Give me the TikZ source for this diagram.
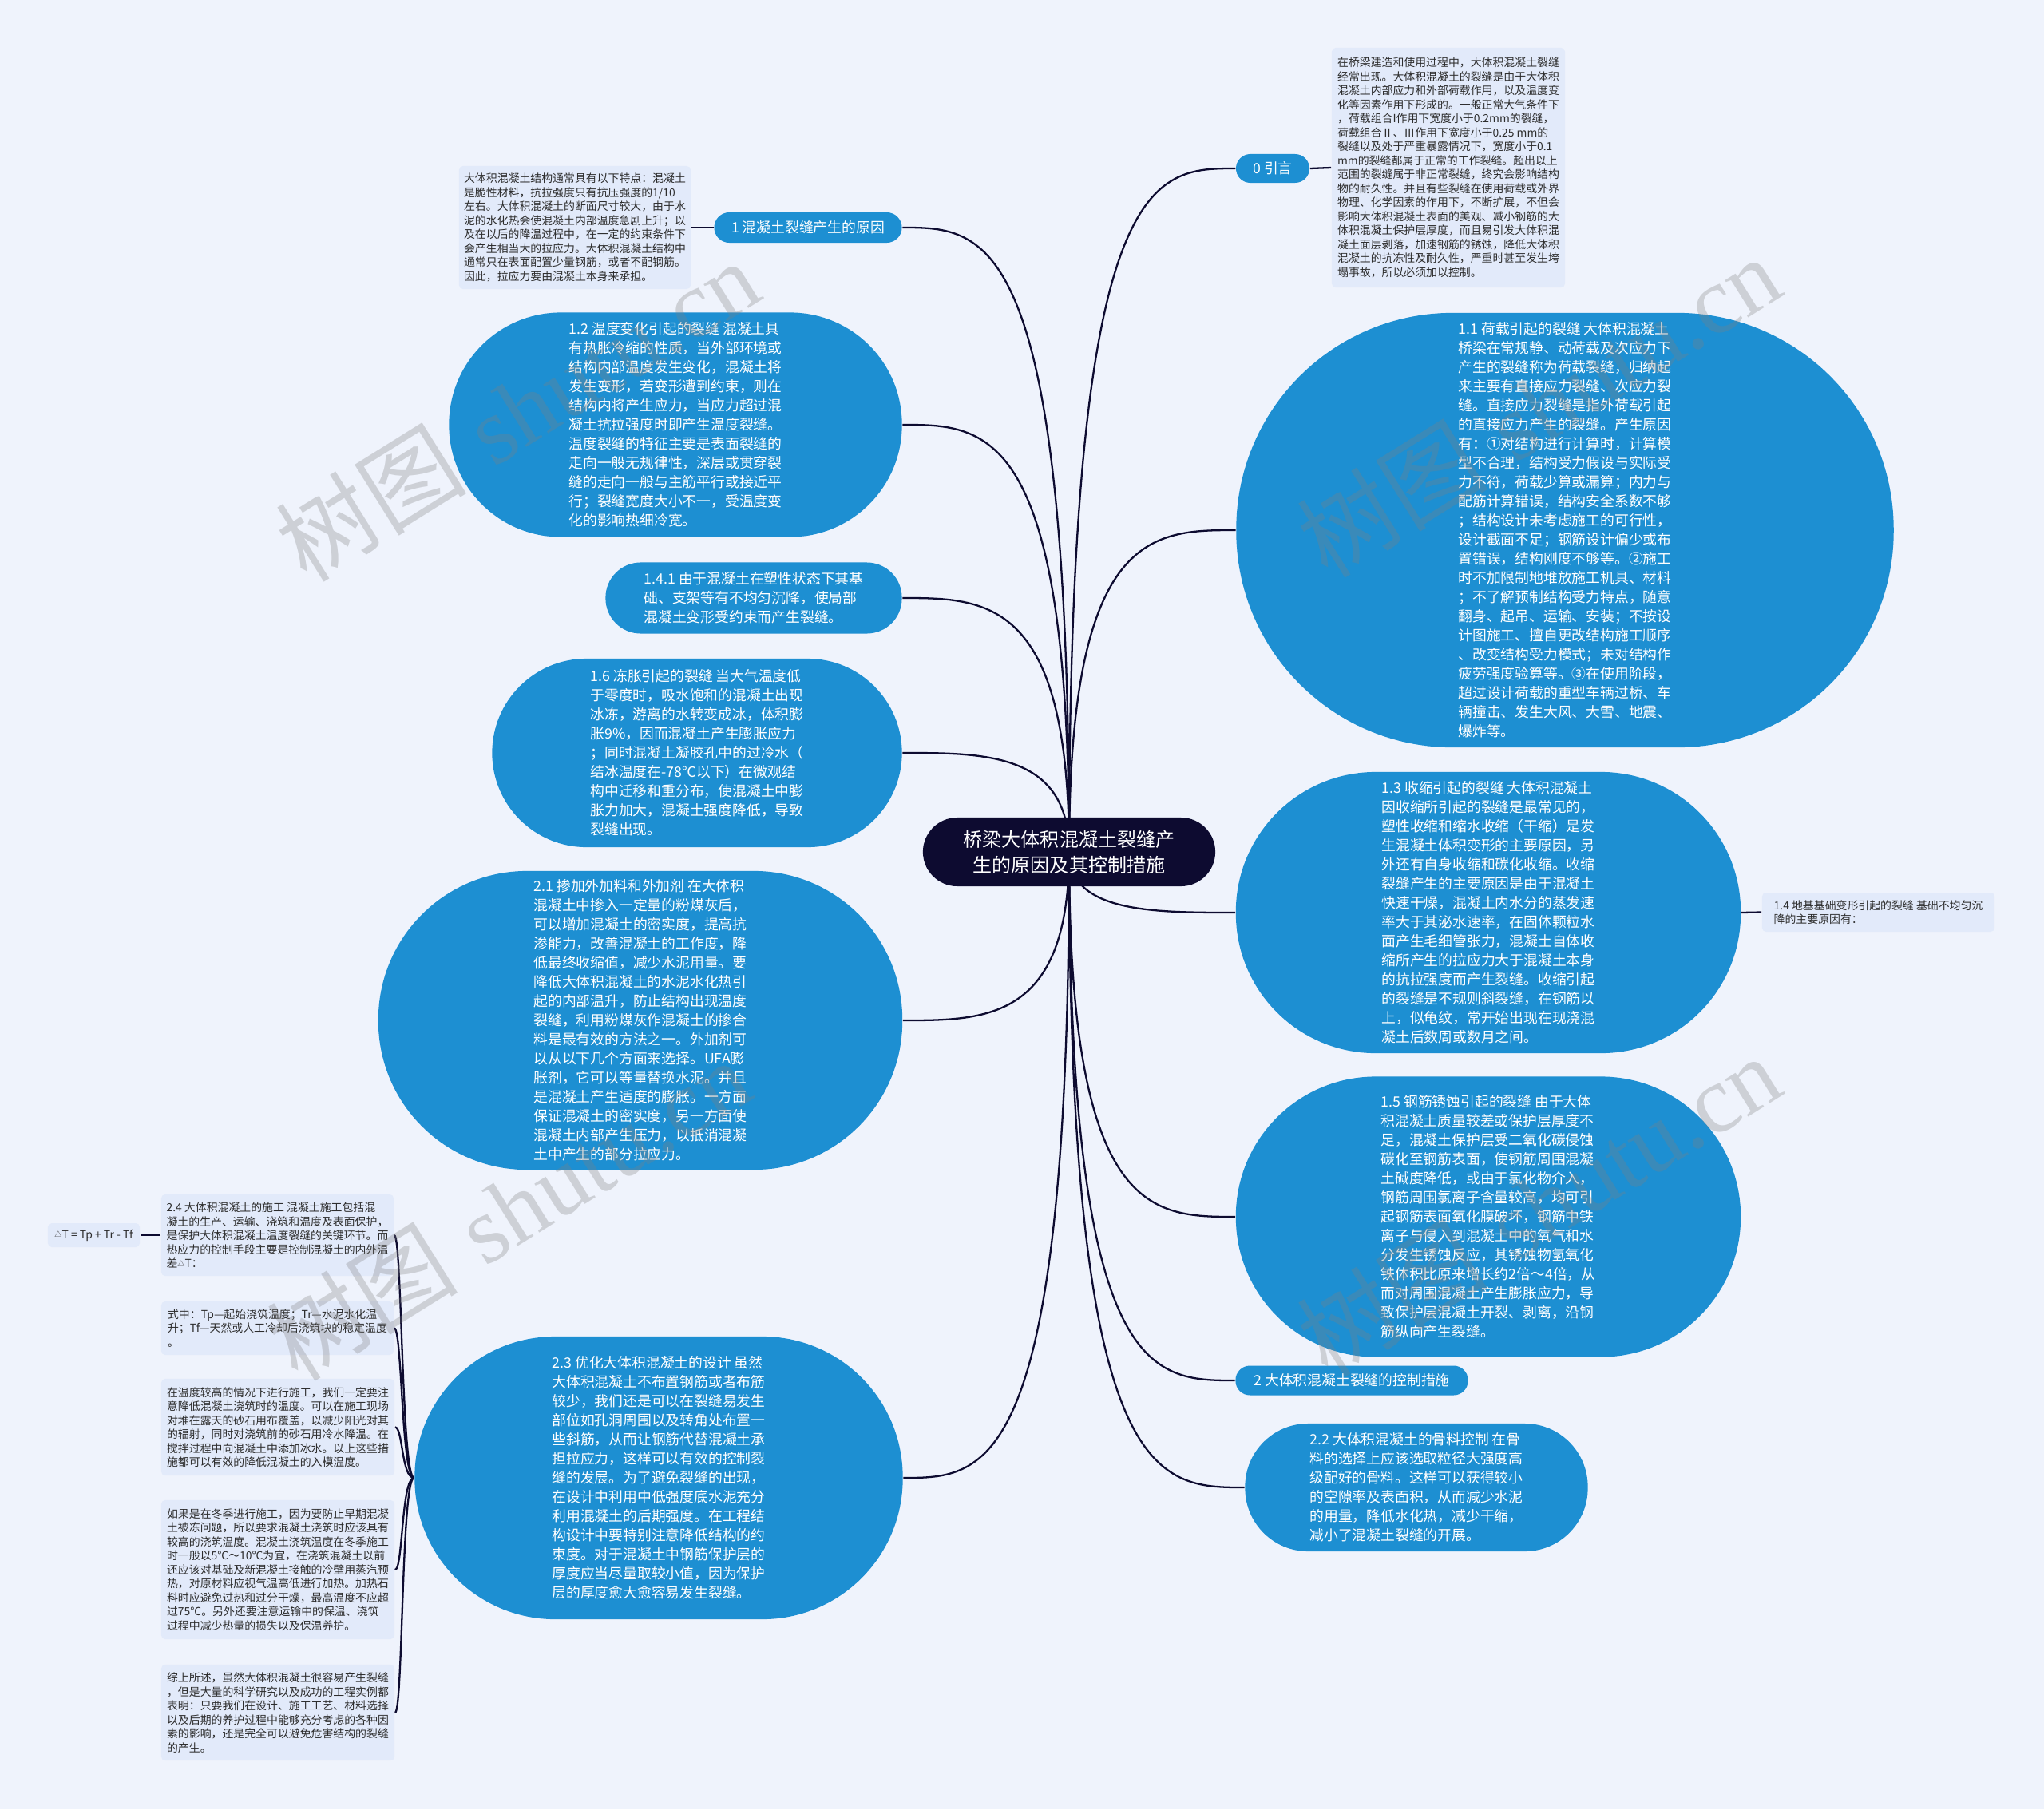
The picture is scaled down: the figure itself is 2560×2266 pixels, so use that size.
\documentclass[tikz,border=0pt]{standalone}
\usepackage{fontspec}
\newfontfamily\cjk{Noto Sans CJK SC}
\newfontfamily\wmserif{Liberation Serif}
\usetikzlibrary{calc}
\definecolor{bgc}{RGB}{239,243,252}
\definecolor{boxc}{RGB}{226,234,250}
\definecolor{blueN}{RGB}{29,143,210}
\definecolor{navy}{RGB}{13,11,48}
\definecolor{txtc}{RGB}{45,45,45}
\newcommand\fbig{\cjk\fontsize{5.06pt}{6.83pt}\selectfont}
\newcommand\fsmall{\cjk\fontsize{3.95pt}{4.98pt}\selectfont}
\newcommand\fcen{\cjk\fontsize{6.83pt}{9.1pt}\selectfont}
\newcommand\fwm{\fontsize{34pt}{36pt}\selectfont}
\newcommand\tri{{\fontsize{2.6pt}{3pt}\selectfont\raisebox{0.4pt}{△}}}
\pgfdeclarelayer{background}
\pgfsetlayers{background,main}
\begin{document}
\begin{tikzpicture}[x=0.01cm,y=-0.01cm,
  conn/.style={draw=navy, line width=0.65pt},
  blob/.style n args={3}{fill=blueN, text=white, minimum width=#1, minimum height=#2, rounded corners=#3, inner sep=0pt, align=left, font=\fbig},
  pill/.style n args={3}{fill=blueN, text=white, minimum width=#1, minimum height=#2, rounded corners=#3, inner sep=0pt, font=\fbig},
  sbox/.style n args={2}{fill=boxc, text=txtc, minimum width=#1, minimum height=#2, rounded corners=0.05cm, inner sep=0pt, align=left, font=\fsmall},
  wm/.style={rotate=32, text=black!50, text opacity=0.3, font=\fwm}
]
\useasboundingbox (0,0) rectangle (2560,2266);

% central
\node[fill=navy, text=white, minimum width=3.66cm, minimum height=0.86cm, rounded corners=0.43cm, inner sep=0pt, align=center, font=\fcen] (c) at (1339,1067) {桥梁大体积混凝土裂缝产\\生的原因及其控制措施};

% right side
\node[pill={0.92cm}{0.36cm}{0.18cm}] (p0) at (1594,211) {0 引言};
\node[sbox={2.92cm}{3.00cm}] (bintro) at (1814,210) {在桥梁建造和使用过程中，大体积混凝土裂缝\\经常出现。大体积混凝土的裂缝是由于大体积\\混凝土内部应力和外部荷载作用，以及温度变\\化等因素作用下形成的。一般正常大气条件下\\，荷载组合I作用下宽度小于0.2mm的裂缝，\\荷载组合Ⅱ、Ⅲ作用下宽度小于0.25 mm的\\裂缝以及处于严重暴露情况下，宽度小于0.1\\mm的裂缝都属于正常的工作裂缝。超出以上\\范围的裂缝属于非正常裂缝，终究会影响结构\\物的耐久性。并且有些裂缝在使用荷载或外界\\物理、化学因素的作用下，不断扩展，不但会\\影响大体积混凝土表面的美观、减小钢筋的大\\体积混凝土保护层厚度，而且易引发大体积混\\凝土面层剥落，加速钢筋的锈蚀，降低大体积\\混凝土的抗冻性及耐久性，严重时甚至发生垮\\塌事故，所以必须加以控制。};

\node[blob={8.23cm}{5.44cm}{2.71cm}] (e11) at (1960,664) {1.1 荷载引起的裂缝 大体积混凝土\\桥梁在常规静、动荷载及次应力下\\产生的裂缝称为荷载裂缝，归纳起\\来主要有直接应力裂缝、次应力裂\\缝。直接应力裂缝是指外荷载引起\\的直接应力产生的裂缝。产生原因\\有：①对结构进行计算时，计算模\\型不合理，结构受力假设与实际受\\力不符，荷载少算或漏算；内力与\\配筋计算错误，结构安全系数不够\\；结构设计未考虑施工的可行性，\\设计截面不足；钢筋设计偏少或布\\置错误，结构刚度不够等。②施工\\时不加限制地堆放施工机具、材料\\；不了解预制结构受力特点，随意\\翻身、起吊、运输、安装；不按设\\计图施工、擅自更改结构施工顺序\\、改变结构受力模式；未对结构作\\疲劳强度验算等。③在使用阶段，\\超过设计荷载的重型车辆过桥、车\\辆撞击、发生大风、大雪、地震、\\爆炸等。};

\node[blob={6.32cm}{3.52cm}{1.75cm}] (e13) at (1864,1143) {1.3 收缩引起的裂缝 大体积混凝土\\因收缩所引起的裂缝是最常见的，\\塑性收缩和缩水收缩（干缩）是发\\生混凝土体积变形的主要原因，另\\外还有自身收缩和碳化收缩。收缩\\裂缝产生的主要原因是由于混凝土\\快速干燥，混凝土内水分的蒸发速\\率大于其泌水速率，在固体颗粒水\\面产生毛细管张力，混凝土自体收\\缩所产生的拉应力大于混凝土本身\\的抗拉强度而产生裂缝。收缩引起\\的裂缝是不规则斜裂缝，在钢筋以\\上，似龟纹，常开始出现在现浇混\\凝土后数周或数月之间。};

\node[sbox={2.91cm}{0.49cm}] (b14) at (2352.5,1142.5) {1.4 地基基础变形引起的裂缝 基础不均匀沉\\降的主要原因有：};

\node[blob={6.32cm}{3.51cm}{1.75cm}] (e15) at (1864,1524) {1.5 钢筋锈蚀引起的裂缝 由于大体\\积混凝土质量较差或保护层厚度不\\足，混凝土保护层受二氧化碳侵蚀\\碳化至钢筋表面，使钢筋周围混凝\\土碱度降低，或由于氯化物介入，\\钢筋周围氯离子含量较高，均可引\\起钢筋表面氧化膜破坏，钢筋中铁\\离子与侵入到混凝土中的氧气和水\\分发生锈蚀反应，其锈蚀物氢氧化\\铁体积比原来增长约2倍～4倍，从\\而对周围混凝土产生膨胀应力，导\\致保护层混凝土开裂、剥离，沿钢\\筋纵向产生裂缝。};

\node[pill={2.91cm}{0.37cm}{0.18cm}] (p2) at (1693,1729) {2 大体积混凝土裂缝的控制措施};

\node[blob={4.29cm}{1.60cm}{0.79cm}] (e22) at (1774,1863) {2.2 大体积混凝土的骨料控制 在骨\\料的选择上应该选取粒径大强度高\\级配好的骨料。这样可以获得较小\\的空隙率及表面积，从而减少水泥\\的用量，降低水化热，减少干缩，\\减小了混凝土裂缝的开展。};

% left side
\node[pill={2.35cm}{0.38cm}{0.19cm}] (p1) at (1012,285) {1 混凝土裂缝产生的原因};
\node[sbox={2.90cm}{1.54cm}] (b1) at (720,285) {大体积混凝土结构通常具有以下特点：混凝土\\是脆性材料，抗拉强度只有抗压强度的1/10\\左右。大体积混凝土的断面尺寸较大，由于水\\泥的水化热会使混凝土内部温度急剧上升；以\\及在以后的降温过程中，在一定的约束条件下\\会产生相当大的拉应力。大体积混凝土结构中\\通常只在表面配置少量钢筋，或者不配钢筋。\\因此，拉应力要由混凝土本身来承担。};

\node[blob={5.67cm}{2.81cm}{1.40cm}] (e12) at (846,532) {1.2 温度变化引起的裂缝 混凝土具\\有热胀冷缩的性质，当外部环境或\\结构内部温度发生变化，混凝土将\\发生变形，若变形遭到约束，则在\\结构内将产生应力，当应力超过混\\凝土抗拉强度时即产生温度裂缝。\\温度裂缝的特征主要是表面裂缝的\\走向一般无规律性，深层或贯穿裂\\缝的走向一般与主筋平行或接近平\\行；裂缝宽度大小不一，受温度变\\化的影响热细冷宽。};

\node[blob={3.71cm}{0.89cm}{0.44cm}] (e141) at (944,749) {1.4.1 由于混凝土在塑性状态下其基\\础、支架等有不均匀沉降，使局部\\混凝土变形受约束而产生裂缝。};

\node[blob={5.13cm}{2.36cm}{1.18cm}] (e16) at (873,943) {1.6 冻胀引起的裂缝 当大气温度低\\于零度时，吸水饱和的混凝土出现\\冰冻，游离的水转变成冰，体积膨\\胀9\%，因而混凝土产生膨胀应力\\；同时混凝土凝胶孔中的过冷水（\\结冰温度在-78℃以下）在微观结\\构中迁移和重分布，使混凝土中膨\\胀力加大，混凝土强度降低，导致\\裂缝出现。};

\node[blob={6.56cm}{3.74cm}{1.86cm}] (e21) at (802,1278) {2.1 掺加外加料和外加剂 在大体积\\混凝土中掺入一定量的粉煤灰后，\\可以增加混凝土的密实度，提高抗\\渗能力，改善混凝土的工作度，降\\低最终收缩值，减少水泥用量。要\\降低大体积混凝土的水泥水化热引\\起的内部温升，防止结构出现温度\\裂缝，利用粉煤灰作混凝土的掺合\\料是最有效的方法之一。外加剂可\\以从以下几个方面来选择。UFA膨\\胀剂，它可以等量替换水泥。并且\\是混凝土产生适度的膨胀。一方面\\保证混凝土的密实度，另一方面使\\混凝土内部产生压力，以抵消混凝\\土中产生的部分拉应力。};

\node[blob={6.11cm}{3.54cm}{1.76cm}] (e23) at (825,1851) {2.3 优化大体积混凝土的设计 虽然\\大体积混凝土不布置钢筋或者布筋\\较少，我们还是可以在裂缝易发生\\部位如孔洞周围以及转角处布置一\\些斜筋，从而让钢筋代替混凝土承\\担拉应力，这样可以有效的控制裂\\缝的发展。为了避免裂缝的出现，\\在设计中利用中低强度底水泥充分\\利用混凝土的后期强度。在工程结\\构设计中要特别注意降低结构的约\\束度。对于混凝土中钢筋保护层的\\厚度应当尽量取较小值，因为保护\\层的厚度愈大愈容易发生裂缝。};

% far-left boxes
\node[sbox={2.91cm}{1.02cm}] (b24) at (347.5,1547) {2.4 大体积混凝土的施工 混凝土施工包括混\\凝土的生产、运输、浇筑和温度及表面保护，\\是保护大体积混凝土温度裂缝的关键环节。而\\热应力的控制手段主要是控制混凝土的内外温\\差\tri T：};
\node[sbox={1.15cm}{0.30cm}] (bdt) at (117.5,1547) {\tri T = Tp + Tr - Tf};
\node[sbox={2.91cm}{0.67cm}] (bsz) at (347.5,1663.5) {式中：Tp—起始浇筑温度；Tr—水泥水化温\\升；Tf—天然或人工冷却后浇筑块的稳定温度\\。};
\node[sbox={2.92cm}{1.21cm}] (bwd) at (348,1787.5) {在温度较高的情况下进行施工，我们一定要注\\意降低混凝土浇筑时的温度。可以在施工现场\\对堆在露天的砂石用布覆盖，以减少阳光对其\\的辐射，同时对浇筑前的砂石用冷水降温。在\\搅拌过程中向混凝土中添加冰水。以上这些措\\施都可以有效的降低混凝土的入模温度。};
\node[sbox={2.92cm}{1.74cm}] (brg) at (348,1966) {如果是在冬季进行施工，因为要防止早期混凝\\土被冻问题，所以要求混凝土浇筑时应该具有\\较高的浇筑温度。混凝土浇筑温度在冬季施工\\时一般以5℃～10℃为宜，在浇筑混凝土以前\\还应该对基础及新混凝土接触的冷壁用蒸汽预\\热，对原材料应视气温高低进行加热。加热石\\料时应避免过热和过分干燥，最高温度不应超\\过75℃。另外还要注意运输中的保温、浇筑\\过程中减少热量的损失以及保温养护。};
\node[sbox={2.92cm}{1.20cm}] (bzs) at (348,2145) {综上所述，虽然大体积混凝土很容易产生裂缝\\，但是大量的科学研究以及成功的工程实例都\\表明：只要我们在设计、施工工艺、材料选择\\以及后期的养护过程中能够充分考虑的各种因\\素的影响，还是完全可以避免危害结构的裂缝\\的产生。};

\begin{pgfonlayer}{background}
\fill[bgc] (0,0) rectangle (2560,2266);
% main curves from the central topic
\foreach \t in {p0.west,e11.west,e13.west,e15.west,p2.west,e22.west,p1.east,e12.east,e141.east,e16.east,e21.east,e23.east}{
  \draw[conn] (c.center) .. controls (c.center |- \t) and ($(c.center |- \t)!0.5!(\t)$) .. (\t);
}
% short links
\draw[conn] (p0.east) -- (bintro.west);
\draw[conn] (p1.west) -- (b1.east);
\draw[conn] (e13.east) -- (b14.west);
\draw[conn] (b24.west) -- (bdt.east);
\foreach \b in {b24,bsz,bwd,brg,bzs}{
  \draw[conn] (e23.west) .. controls ([xshift=-0.16cm]e23.west) and ([xshift=0.10cm]\b.east) .. (\b.east);
}
\end{pgfonlayer}

% watermarks
\node[wm] (wm1) at (648,514) {{\cjk 树图} {\wmserif shutu.cn}};
\node[wm] (wm2) at (1927,509) {{\cjk 树图} {\wmserif shutu.cn}};
\node[wm] (wm3) at (637,1515) {{\cjk 树图} {\wmserif shutu.cn}};
\node[wm] (wm4) at (1927,1510) {{\cjk 树图} {\wmserif shutu.cn}};
\end{tikzpicture}
\end{document}
